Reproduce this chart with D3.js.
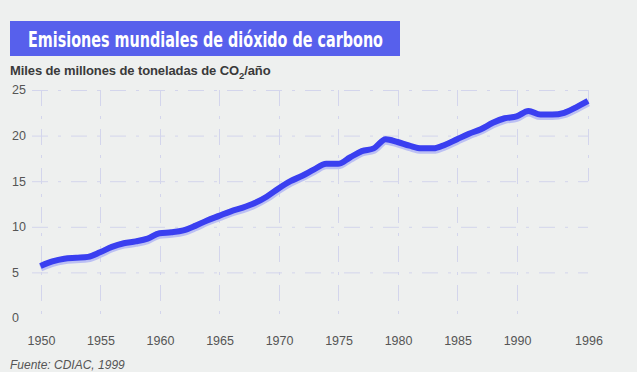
<!DOCTYPE html>
<html>
<head>
<meta charset="utf-8">
<script src="https://cdn.jsdelivr.net/npm/d3@7"></script>
<style>
  body { margin: 0; background: #eef0ef; }
  svg { display: block; }
</style>
</head>
<body>
<div id="vis"></div>
<script>
// values (miles de millones de t de CO2 por año)
let years = d3.range(1950, 1997);
let emissions = [
  5.7, 6.2, 6.5, 6.6, 6.7, 7.2, 7.8, 8.2, 8.4, 8.7,
  9.3, 9.4, 9.6, 10.1, 10.7, 11.2, 11.7, 12.1, 12.6, 13.3,
  14.2, 15.0, 15.6, 16.3, 16.9, 16.9, 17.6, 18.3, 18.6, 19.6,
  19.3, 18.9, 18.6, 18.6, 19.0, 19.6, 20.2, 20.7, 21.4, 21.9,
  22.1, 22.7, 22.3, 22.3, 22.5, 23.1, 23.8
];
let xTicks = [1950, 1955, 1960, 1965, 1970, 1975, 1980, 1985, 1990, 1996];
let yTicks = [0, 5, 10, 15, 20, 25];

let title = 'Emisiones mundiales de dióxido de carbono';
let source = 'Fuente: CDIAC, 1999';

let W = 637, H = 372;

let svg = d3.select('#vis')
  .append('svg')
  .attr('width', W)
  .attr('height', H)
  .style('background-color', '#eef0ef');

let x = d3.scaleLinear().domain([1950, 1996]).range([40.5, 588]);
let y = d3.scaleLinear().domain([0, 25]).range([318, 90]);

// title bar
svg.append('rect')
  .attr('x', 10).attr('y', 21)
  .attr('width', 390).attr('height', 35)
  .attr('fill', '#5760ec');

svg.append('text')
  .attr('x', 28).attr('y', 47)
  .attr('fill', '#ffffff')
  .attr('font-family', '"Liberation Sans Narrow", "DejaVu Sans Condensed", Roboto, sans-serif')
  .attr('font-weight', 'bold')
  .attr('font-size', 22)
  .attr('textLength', 355)
  .attr('lengthAdjust', 'spacingAndGlyphs')
  .text(title);

// unit label with subscript
let sub = svg.append('text')
  .attr('x', 10).attr('y', 75)
  .attr('fill', '#3a3a3a')
  .attr('font-family', '"Liberation Sans", Arial, sans-serif')
  .attr('font-weight', 'bold')
  .attr('font-size', 13)
  .attr('letter-spacing', -0.1);
sub.append('tspan').text('Miles de millones de toneladas de CO');
sub.append('tspan').attr('font-size', 9.5).attr('dy', 4).text('2');
sub.append('tspan').attr('dy', -4).text('/año');

// grid, faint dash-dot
let grid = svg.append('g')
  .attr('stroke', '#d3d5ec')
  .attr('stroke-width', 1)
  .attr('stroke-dasharray', '16,10,3,10');

grid.selectAll('line.h')
  .data(yTicks.filter(d => d > 0))
  .join('line')
  .attr('class', 'h')
  .attr('x1', 32).attr('x2', x(1996))
  .attr('y1', d => y(d) + 0.5).attr('y2', d => y(d) + 0.5);

grid.selectAll('line.v')
  .data(xTicks.slice(0, -1))
  .join('line')
  .attr('class', 'v')
  .attr('x1', d => Math.round(x(d)) + 0.5).attr('x2', d => Math.round(x(d)) + 0.5)
  .attr('y1', y(25)).attr('y2', y(0) - 4);

grid.append('line')
  .attr('x1', x(1996) + 0.5).attr('x2', x(1996) + 0.5)
  .attr('y1', y(25)).attr('y2', y(15));

// y labels
svg.append('g')
  .selectAll('text')
  .data(yTicks)
  .join('text')
  .attr('x', 12)
  .attr('y', d => y(d))
  .attr('dy', '0.35em')
  .attr('fill', '#555')
  .attr('font-family', '"Liberation Sans", Arial, sans-serif')
  .attr('font-size', 12.5)
  .text(d => d);

// x labels
svg.append('g')
  .selectAll('text')
  .data(xTicks)
  .join('text')
  .attr('x', d => x(d) + 1)
  .attr('y', 345)
  .attr('text-anchor', 'middle')
  .attr('fill', '#555')
  .attr('font-family', '"Liberation Sans", Arial, sans-serif')
  .attr('font-size', 12.5)
  .text(d => d);

// the line, with a soft halo under it
let line = d3.line()
  .x((d, i) => x(years[i]))
  .y(d => y(d))
  .curve(d3.curveMonotoneX);

svg.append('path')
  .datum(emissions)
  .attr('d', line)
  .attr('transform', 'translate(0,1.5)')
  .attr('fill', 'none')
  .attr('stroke', '#bcc0f3')
  .attr('stroke-width', 8)
  .attr('stroke-linejoin', 'round');

svg.append('path')
  .datum(emissions)
  .attr('d', line)
  .attr('fill', 'none')
  .attr('stroke', '#3a3ff0')
  .attr('stroke-width', 6)
  .attr('stroke-linejoin', 'round');

// source at the bottom edge
svg.append('text')
  .attr('x', 10).attr('y', 369)
  .attr('fill', '#555')
  .attr('font-family', '"Liberation Sans", Arial, sans-serif')
  .attr('font-style', 'italic')
  .attr('font-size', 12)
  .text(source);
</script>
</body>
</html>
